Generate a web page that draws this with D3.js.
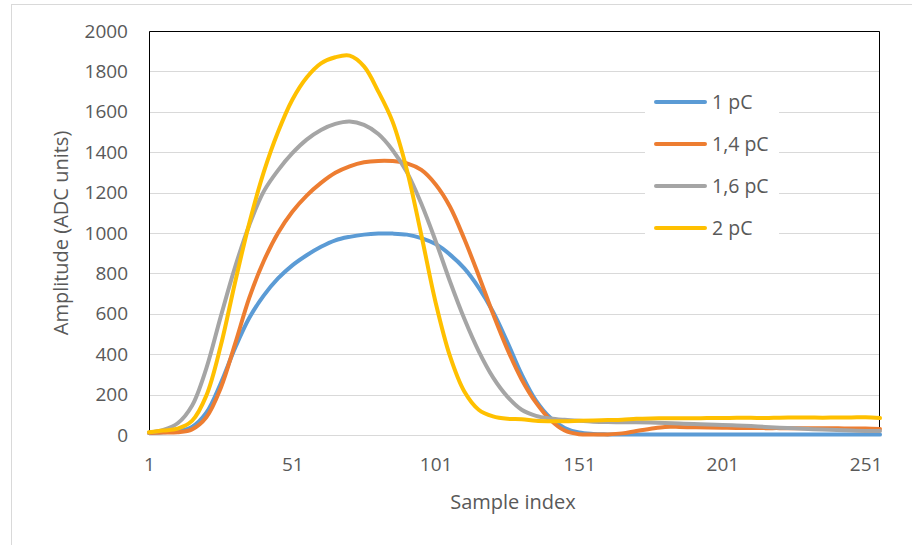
<!DOCTYPE html>
<html>
<head>
<meta charset="utf-8">
<script src="https://cdnjs.cloudflare.com/ajax/libs/d3/7.8.5/d3.min.js"></script>
<style>
  body { margin: 0; background: #fff; }
  svg text { font-family: "Open Sans", sans-serif; fill: #595959; }
</style>
</head>
<body>
<svg id="chart" width="912" height="545"></svg>
<script>
// sample indices read every 5 samples
const sampleIndex = [1, 6, 11, 16, 21, 26, 31, 36, 41, 46, 51, 56, 61, 66, 71, 76, 81, 86, 91, 96,
  101, 106, 111, 116, 121, 126, 131, 136, 141, 146, 151, 156, 161, 166, 171, 176, 181, 186, 191, 196,
  201, 206, 211, 216, 221, 226, 231, 236, 241, 246, 251, 256];

const charge1pC = [10, 14, 20, 40, 110, 255, 430, 580, 690, 775, 840, 890, 932, 964, 981, 992, 997, 997, 992, 975,
  945, 893, 825, 730, 610, 460, 300, 170, 85, 35, 12, 5, 3, 2, 2, 3, 2, 2, 3, 2,
  2, 3, 2, 2, 3, 2, 2, 3, 2, 2, 3, 2];

const charge14pC = [10, 12, 14, 28, 88, 232, 450, 680, 860, 1000, 1105, 1185, 1248, 1298, 1330, 1350, 1357, 1356, 1345, 1312,
  1240, 1130, 970, 790, 600, 425, 275, 160, 75, 22, 4, 2, 3, 8, 20, 31, 40, 40, 38, 37,
  36, 35, 35, 34, 34, 33, 34, 33, 33, 32, 32, 30];

const charge16pC = [12, 25, 58, 145, 330, 585, 830, 1040, 1205, 1310, 1395, 1462, 1510, 1540, 1552, 1535, 1490, 1410, 1300, 1145,
  960, 760, 575, 415, 285, 190, 125, 95, 82, 75, 70, 66, 64, 63, 63, 62, 60, 57, 54, 52,
  50, 47, 44, 40, 36, 33, 30, 27, 25, 22, 20, 20];

const charge2pC = [14, 22, 32, 70, 195, 440, 754, 1050, 1300, 1500, 1660, 1770, 1840, 1870, 1878, 1825, 1700, 1550, 1310, 990,
  655, 390, 215, 125, 92, 80, 78, 70, 68, 68, 70, 72, 74, 76, 80, 82, 83, 83, 83, 84,
  84, 85, 85, 84, 86, 87, 87, 86, 87, 87, 88, 84];

const seriesNames = ["1 pC", "1,4 pC", "1,6 pC", "2 pC"];
const seriesColors = ["#5B9BD5", "#ED7D31", "#A5A5A5", "#FFC000"];
const seriesValues = [charge1pC, charge14pC, charge16pC, charge2pC];

const yTicks = [0, 200, 400, 600, 800, 1000, 1200, 1400, 1600, 1800, 2000];
const xTicks = [1, 51, 101, 151, 201, 251];

const margin = {top: 31, right: 32, bottom: 110, left: 149};
const svg = d3.select("#chart");
const width = +svg.attr("width") - margin.left - margin.right;
const height = +svg.attr("height") - margin.top - margin.bottom;

// outer chart border
svg.append("rect")
  .attr("x", 11.5).attr("y", 4.5)
  .attr("width", 1000).attr("height", 700)
  .attr("fill", "none")
  .attr("stroke", "#d9d9d9");

const x = d3.scaleLinear().domain([1, 256]).range([0, width]);
const y = d3.scaleLinear().domain([0, 2000]).range([height, 0]);

const g = svg.append("g").attr("transform", "translate(" + margin.left + "," + margin.top + ")");

// gridlines
g.append("g")
  .selectAll("line")
  .data(yTicks)
  .join("line")
  .attr("x1", 0).attr("x2", width)
  .attr("y1", d => Math.round(y(d)) + 0.5).attr("y2", d => Math.round(y(d)) + 0.5)
  .attr("stroke", "#d9d9d9")
  .attr("stroke-width", 1);

// frame: top, left, right in black
g.append("path")
  .attr("d", "M0.5," + height + "V0.5H" + (width - 0.5) + "V" + height)
  .attr("fill", "none")
  .attr("stroke", "#000")
  .attr("stroke-width", 1);

const yAxis = g.append("g")
  .call(d3.axisLeft(y).tickValues(yTicks).tickFormat(d3.format("d")).tickSize(0).tickPadding(21));
yAxis.select(".domain").remove();
yAxis.selectAll("text").style("font-size", "19px").attr("fill", "#595959");

const xAxis = g.append("g")
  .attr("transform", "translate(0," + height + ")")
  .call(d3.axisBottom(x).tickValues(xTicks).tickFormat(d3.format("d")).tickSize(0).tickPadding(23));
xAxis.select(".domain").remove();
xAxis.selectAll("text").style("font-size", "19px").attr("fill", "#595959");

// series lines
const line = d3.line()
  .x((d, i) => x(sampleIndex[i]))
  .y(d => y(d))
  .curve(d3.curveCatmullRom.alpha(0.5));

g.append("g")
  .selectAll("path")
  .data(seriesValues)
  .join("path")
  .attr("d", d => line(d))
  .attr("fill", "none")
  .attr("stroke", (d, i) => seriesColors[i])
  .attr("stroke-width", 4)
  .attr("stroke-linejoin", "round")
  .attr("stroke-linecap", "round");

// axis titles
svg.append("text")
  .attr("transform", "translate(68,233)rotate(-90)")
  .attr("text-anchor", "middle")
  .style("font-size", "20px")
  .text("Amplitude (ADC units)");

svg.append("text")
  .attr("x", 513).attr("y", 509)
  .attr("text-anchor", "middle")
  .style("font-size", "20px")
  .text("Sample index");

// legend
const legend = svg.append("g");
legend.append("rect")
  .attr("x", 645).attr("y", 82)
  .attr("width", 134).attr("height", 166)
  .attr("fill", "#fff");

const rows = legend.selectAll("g.row")
  .data(seriesNames)
  .join("g")
  .attr("class", "row")
  .attr("transform", (d, i) => "translate(0," + (102 + i * 42) + ")");

rows.append("line")
  .attr("x1", 656).attr("x2", 705)
  .attr("stroke", (d, i) => seriesColors[i])
  .attr("stroke-width", 4)
  .attr("stroke-linecap", "round");

rows.append("text")
  .attr("x", 712)
  .attr("dy", "0.35em")
  .style("font-size", "19.5px")
  .text(d => d);
</script>
</body>
</html>
